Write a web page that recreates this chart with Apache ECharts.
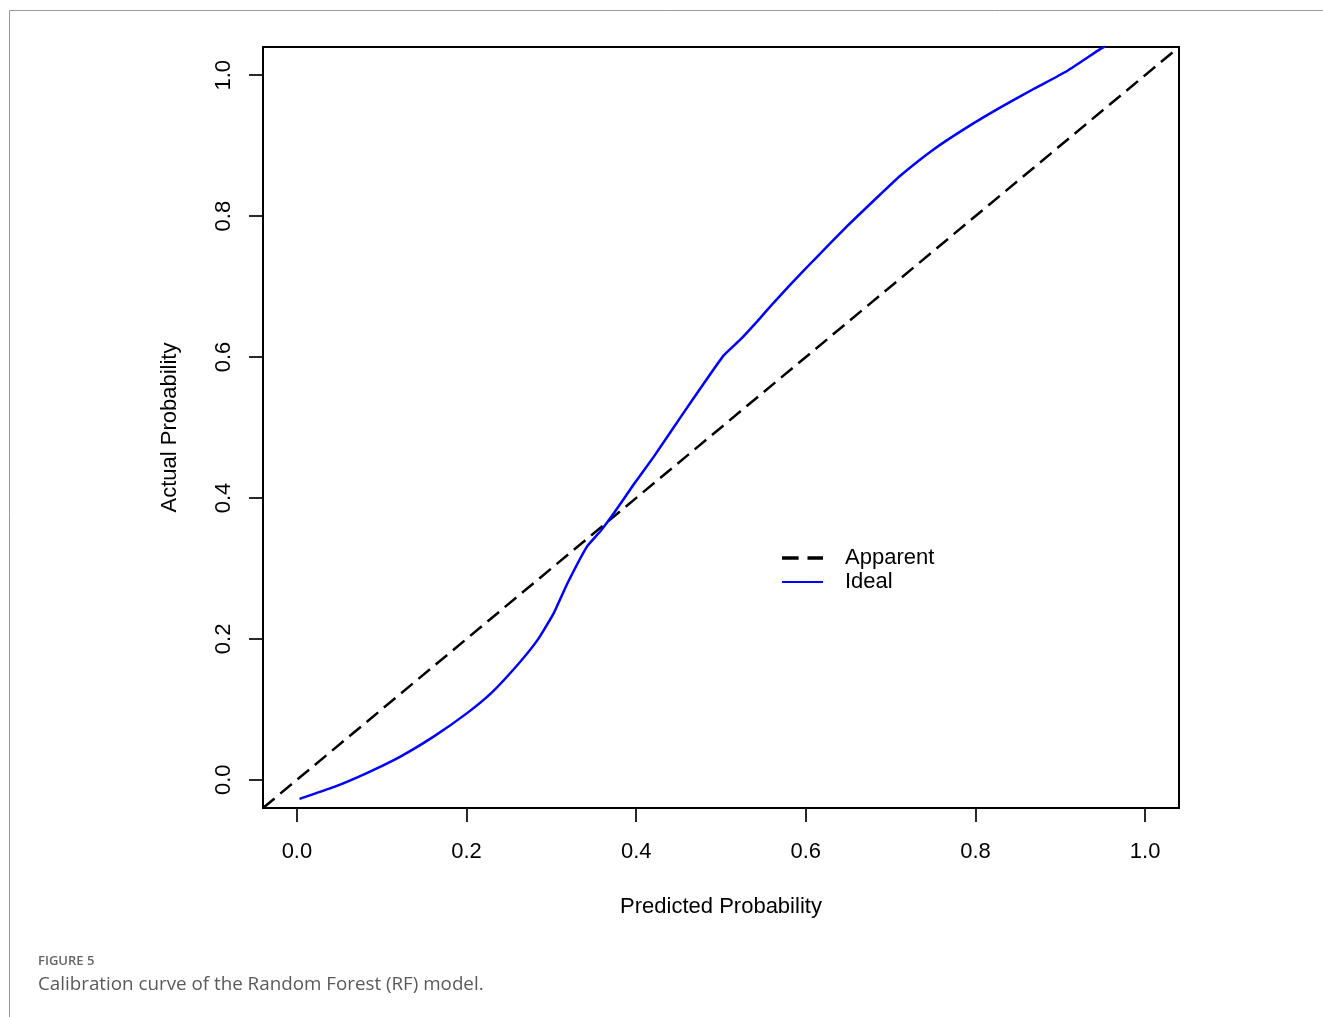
<!DOCTYPE html>
<html>
<head>
<meta charset="utf-8">
<script src="https://cdn.jsdelivr.net/npm/echarts@6/dist/echarts.min.js"></script>
<style>
html,body{margin:0;padding:0;background:#fff;}
#chart{width:1323px;height:1017px;}
</style>
</head>
<body>
<div id="chart"></div>
<script>
// Tick values
const tickValues = [0, 0.2, 0.4, 0.6, 0.8, 1.0];
// Axis range
const axisMin = -0.04;
const axisMax = 1.04;
// Apparent (reference diagonal) line
const apparentX = [-0.04, 1.04];
const apparentY = [-0.04, 1.04];
// Ideal (blue) calibration curve
const idealX = [0.003, 0.044, 0.083, 0.122, 0.162, 0.201, 0.229, 0.260, 0.284, 0.303, 0.319, 0.342, 0.358, 0.374, 0.397, 0.421, 0.452, 0.476, 0.503, 0.523, 0.543, 0.562, 0.582, 0.609, 0.649, 0.688, 0.711, 0.751, 0.790, 0.829, 0.868, 0.908, 0.947, 0.953];
const idealY = [-0.027, -0.010, 0.010, 0.033, 0.062, 0.095, 0.123, 0.163, 0.199, 0.237, 0.279, 0.331, 0.353, 0.379, 0.419, 0.459, 0.514, 0.556, 0.602, 0.625, 0.651, 0.677, 0.703, 0.737, 0.786, 0.831, 0.857, 0.895, 0.926, 0.954, 0.980, 1.006, 1.037, 1.041];
// Texts
const seriesNames = ['Apparent', 'Ideal'];
const xAxisTitle = 'Predicted Probability';
const yAxisTitle = 'Actual Probability';
const figureLabel = 'FIGURE 5';
const figureCaption = 'Calibration curve of the Random Forest (RF) model.';

const FONT = 'Liberation Sans, Arial, sans-serif';
const chart = echarts.init(document.getElementById('chart'), null, {renderer: 'canvas'});

const zip = (xs, ys) => xs.map((x, i) => [x, ys[i]]);

chart.setOption({
  animation: false,
  backgroundColor: '#fff',
  title: [
    {text: figureLabel, left: 38, top: 955, padding: 0,
     textStyle: {fontFamily: 'Open Sans, sans-serif', fontSize: 13, fontWeight: 600, color: '#666'}},
    {text: figureCaption, left: 38, top: 975, padding: 0,
     textStyle: {fontFamily: 'Open Sans, sans-serif', fontSize: 18.8, fontWeight: 'normal', color: '#5a5a5a'}}
  ],
  graphic: [{
    type: 'polyline', silent: true,
    shape: {points: [[1323, 10.5], [9.5, 10.5], [9.5, 1017]]},
    style: {stroke: '#999', lineWidth: 1, fill: null}
  }],
  legend: {
    orient: 'vertical', left: 782, top: 547, padding: 0, itemGap: 2,
    itemWidth: 41, itemHeight: 14, selectedMode: false,
    textStyle: {fontFamily: FONT, fontSize: 22, color: '#000', padding: [0, 0, 0, 17]},
    data: [
      {name: seriesNames[0], icon: 'path://M0,0h15v3h-15zM23,0h14v3h-14z', itemStyle: {color: '#000', borderWidth: 0}},
      {name: seriesNames[1], icon: 'path://M0,0h41v2h-41z', itemStyle: {color: '#0000ff', borderWidth: 0}}
    ]
  },
  grid: {
    left: 263, top: 47, width: 916, height: 761,
    show: true, borderColor: '#000', borderWidth: 2, backgroundColor: 'transparent',
    containLabel: false, outerBoundsMode: 'none'
  },
  xAxis: {
    type: 'value', min: axisMin, max: axisMax, position: 'bottom',
    splitLine: {show: false},
    axisLine: {show: false, onZero: false},
    axisTick: {show: true, inside: false, length: 14, customValues: tickValues, lineStyle: {color: '#111', width: 1.8}},
    axisLabel: {show: true, customValues: tickValues, margin: 33, fontSize: 22, fontFamily: FONT, color: '#000',
      formatter: v => Number(v).toFixed(1)},
    name: xAxisTitle, nameLocation: 'middle', nameGap: 88,
    nameTextStyle: {fontSize: 22, fontFamily: FONT, color: '#000'}
  },
  yAxis: {
    type: 'value', min: axisMin, max: axisMax, position: 'left',
    splitLine: {show: false},
    axisLine: {show: false, onZero: false},
    axisTick: {show: true, inside: false, length: 14, customValues: tickValues, lineStyle: {color: '#111', width: 1.8}},
    axisLabel: {show: true, customValues: tickValues, margin: 28, rotate: 90, fontSize: 22, fontFamily: FONT, color: '#000',
      formatter: v => Number(v).toFixed(1)},
    name: yAxisTitle, nameLocation: 'middle', nameGap: 82, nameRotate: 90,
    nameTextStyle: {fontSize: 22, fontFamily: FONT, color: '#000'}
  },
  series: [
    {
      name: seriesNames[0], type: 'line', data: zip(apparentX, apparentY),
      symbol: 'none', showSymbol: false, silent: true, clip: true, color: '#000',
      lineStyle: {color: '#000', width: 2.5, type: [15, 7.45], cap: 'butt'}
    },
    {
      name: seriesNames[1], type: 'line', data: zip(idealX, idealY),
      symbol: 'none', showSymbol: false, silent: true, clip: true, color: '#0000ff',
      smooth: 0.15,
      lineStyle: {color: '#0000ff', width: 2.5}
    }
  ]
});
</script>
</body>
</html>
